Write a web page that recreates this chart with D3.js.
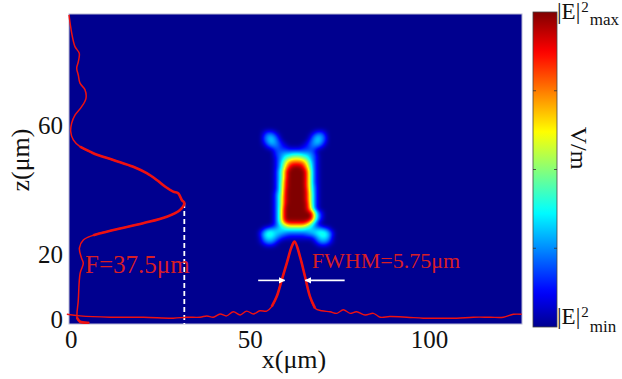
<!DOCTYPE html>
<html>
<head>
<meta charset="utf-8">
<script src="https://cdn.jsdelivr.net/npm/d3@7/dist/d3.min.js"></script>
<style>
  html, body { margin: 0; padding: 0; background: #fff; }
  svg { display: block; font-family: "Liberation Serif", "Times New Roman", serif; }
</style>
</head>
<body>
<svg id="chart" width="622" height="379"></svg>
<script>
// ---- axes ----
const xTicks = [0, 50, 100];
const zTicks = [0, 20, 60];
const xDomain = [-0.5, 126];   // μm
const zDomain = [-1.5, 94.5];  // μm, lens exit at the bottom edge

// ---- |E|^2 field near the focus (normalised, hex digit / 15) ----
// columns: x = 52 … 74 μm (1 μm step); rows: z = 61 … 22 μm (1 μm step)
const fieldX0 = 52;
const fieldZ0 = 61;
const fieldRows = [
  "00000000000000000000000", // 61
  "00000000000000000000000", // 60
  "00000000000000000000000", // 59
  "00122100000000001221000", // 58
  "00244310000000013442000", // 57
  "00345420000000024543000", // 56
  "00245431000000134542000", // 55
  "00134432100001234431000", // 54
  "00012332211112233210000", // 53
  "00000233333333332000000", // 52
  "00000234556665543100000", // 51
  "00000134678887643100000", // 50
  "000001358abbba853100000", // 49
  "000001369cdddc963100000", // 48
  "00000136adfffda63100000", // 47
  "00000147cfffffc73100000", // 46
  "00000147cfffffc73100000", // 45
  "00000147cfffffc73100000", // 44
  "00000147dfffffc73100000", // 43
  "00000148dfffffc73100000", // 42
  "00000148dfffffc74100000", // 41
  "00000148efffffd74100000", // 40
  "00000258efffffd84100000", // 39
  "00000259efffffd84100000", // 38
  "00000259efffffd84100000", // 37
  "00000259efffffe84100000", // 36
  "00000259ffffffe94100000", // 35
  "0000025affffffe94100000", // 34
  "0000025affffffff9420000", // 33
  "0000025affffffff9420000", // 32
  "0000025affffffff9420000", // 31
  "00000259deeeeed95200000", // 30
  "000012468aaaaa864210000", // 29
  "00234455666666554443200", // 28
  "02466555444444455666420", // 27
  "02566543322222334566520", // 26
  "01455432111111112455410", // 25
  "01344310000000001344310", // 24
  "00122100000000000122100", // 23
  "00000000000000000000000"  // 22
];

// ---- transverse intensity profile at the focus (x, plotted height z) ----
const xProfileX = [-1.1, 2.6, 11.0, 20.3, 28.6, 32.4, 36.1, 38.0, 39.8, 41.7, 43.5, 45.4, 47.3, 49.1, 51.0, 52.8, 54.7, 56.1, 57.5, 58.9, 60.3, 61.7, 62.5, 64.0, 65.4, 66.8, 68.2, 70.1, 72.4, 74.3, 76.1, 78.0, 79.8, 82.2, 84.5, 86.4, 89.1, 93.8, 98.4, 103.1, 107.8, 112.4, 117.1, 120.8, 123.6, 125.9];
const xProfileZ = [1.5, 1.0, 0.6, 0.6, 0.3, 0.6, 0.6, 1.0, 0.6, 1.6, 1.0, 2.3, 1.3, 2.5, 1.6, 2.6, 2.5, 3.9, 7.0, 12.1, 17.3, 22.5, 24.0, 19.4, 13.2, 7.0, 3.4, 2.6, 2.3, 1.8, 2.9, 1.8, 2.3, 1.3, 1.8, 0.6, 0.8, 0.6, 0.3, 0.3, 0.3, 0.6, 0.6, 0.6, 1.5, 1.5];

// ---- axial intensity profile (z, plotted width x) ----
const zProfileZ = [94.2, 88.6, 84.4, 82.3, 79.7, 77.7, 75.6, 73.1, 71.0, 68.4, 65.8, 63.2, 60.7, 58.1, 55.5, 53.4, 51.4, 49.3, 47.2, 45.2, 43.1, 41.0, 39.5, 39.0, 36.9, 36.0, 33.8, 31.7, 29.7, 27.6, 26.0, 24.5, 22.0, 18.9, 17.3, 14.2, 5.9, 0.3, -0.8, -1.1];
const zProfileX = [-0.5, 0.25, 1.17, 2.37, 2.09, 1.65, 2.09, 2.57, 3.97, 4.24, 3.04, 1.17, 0.25, -0.03, 0.70, 2.57, 6.28, 11.87, 17.45, 21.2, 24.0, 26.4, 28.6, 30.0, 31.0, 31.7, 30.5, 26.8, 20.2, 11.9, 6.3, 3.5, 2.4, 3.0, 3.5, 2.6, 2.1, 1.8, 2.6, 4.9];

// ---- annotations ----
const focalLength = 37.5;   // μm, measured from the lens exit
const fwhm = 5.75;          // μm
const fwhmCenter = 62.6;    // μm
const fwhmLevel = 12;       // half of the plotted peak height

// ---- layout ----
const plot = { left: 69, right: 522, top: 14, bottom: 324 };
const cbar = { left: 533, right: 557, top: 12, bottom: 327 };
const textRed = "#d81e26";
const lineRed = "#ee1111";

const svg = d3.select("#chart");

const x = d3.scaleLinear().domain(xDomain).range([plot.left, plot.right]);
const z = d3.scaleLinear().domain(zDomain).range([plot.bottom, plot.top]);

// jet colour map
const jet = d3.scaleLinear()
  .domain([0, 0.111, 0.365, 0.619, 0.873, 1])
  .range(["#00008f", "#0000ff", "#00ffff", "#ffff00", "#ff0000", "#800000"])
  .clamp(true);

// ---- field image ----
const grid = fieldRows.map(r => Array.from(r, c => parseInt(c, 16) / 15));
const nRows = grid.length, nCols = grid[0].length;

function fieldAt(xv, zv) {
  const c = xv - fieldX0, r = fieldZ0 - zv;
  if (c < 0 || r < 0 || c > nCols - 1 || r > nRows - 1) return 0;
  const c0 = Math.min(Math.floor(c), nCols - 2), r0 = Math.min(Math.floor(r), nRows - 2);
  const fc = c - c0, fr = r - r0;
  const a = grid[r0][c0], b = grid[r0][c0 + 1], d = grid[r0 + 1][c0], e = grid[r0 + 1][c0 + 1];
  return (a * (1 - fc) + b * fc) * (1 - fr) + (d * (1 - fc) + e * fc) * fr;
}

const W = plot.right - plot.left, H = plot.bottom - plot.top;
let vals = new Float32Array(W * H);
for (let j = 0; j < H; j++) {
  const zv = z.invert(plot.top + j + 0.5);
  for (let i = 0; i < W; i++) {
    vals[j * W + i] = fieldAt(x.invert(plot.left + i + 0.5), zv);
  }
}
// box smoothing of the sampled field
function boxBlur(src, rad) {
  const tmp = new Float32Array(W * H), out = new Float32Array(W * H);
  for (let j = 0; j < H; j++) for (let i = 0; i < W; i++) {
    let s = 0, n = 0;
    for (let k = -rad; k <= rad; k++) { const ii = i + k; if (ii >= 0 && ii < W) { s += src[j * W + ii]; n++; } }
    tmp[j * W + i] = s / n;
  }
  for (let j = 0; j < H; j++) for (let i = 0; i < W; i++) {
    let s = 0, n = 0;
    for (let k = -rad; k <= rad; k++) { const jj = j + k; if (jj >= 0 && jj < H) { s += tmp[jj * W + i]; n++; } }
    out[j * W + i] = s / n;
  }
  return out;
}
vals = boxBlur(boxBlur(vals, 2), 2);

const canvas = document.createElement("canvas");
canvas.width = W; canvas.height = H;
const ctx = canvas.getContext("2d");
const img = ctx.createImageData(W, H);
for (let p = 0; p < W * H; p++) {
  const col = d3.rgb(jet(vals[p]));
  img.data[4 * p] = col.r; img.data[4 * p + 1] = col.g; img.data[4 * p + 2] = col.b; img.data[4 * p + 3] = 255;
}
ctx.putImageData(img, 0, 0);

svg.append("image")
  .attr("x", plot.left).attr("y", plot.top)
  .attr("width", W).attr("height", H)
  .attr("preserveAspectRatio", "none")
  .attr("href", canvas.toDataURL());

svg.append("rect")
  .attr("x", plot.left).attr("y", plot.top)
  .attr("width", W).attr("height", H)
  .attr("fill", "none").attr("stroke", "#b8b8d4").attr("stroke-width", 1);

// ---- dashed focus marker ----
const lensZ = zDomain[0];
const focusZ = lensZ + focalLength;
const peakIdx = d3.maxIndex(zProfileX);
svg.append("line")
  .attr("x1", x(zProfileX[peakIdx])).attr("x2", x(zProfileX[peakIdx]))
  .attr("y1", z(focusZ)).attr("y2", z(lensZ))
  .attr("stroke", "#ffffff").attr("stroke-width", 1.8)
  .attr("stroke-dasharray", "5,3");

// ---- profiles ----
const curve = d3.curveCatmullRom.alpha(0.5);
const xLine = d3.line().x(d => x(d[0])).y(d => z(d[1])).curve(curve);
const xPts = xProfileX.map((v, i) => [v, xProfileZ[i]]);
const zPts = zProfileZ.map((v, i) => [zProfileX[i], v]);

svg.append("path").attr("d", xLine(xPts))
  .attr("fill", "none").attr("stroke", lineRed).attr("stroke-width", 1.4);
svg.append("path").attr("d", xLine(xPts.filter(d => d[0] >= 55 && d[0] <= 69.5)))
  .attr("fill", "none").attr("stroke", lineRed).attr("stroke-width", 2.6).attr("stroke-linejoin", "round");

svg.append("path").attr("d", xLine(zPts))
  .attr("fill", "none").attr("stroke", lineRed).attr("stroke-width", 1.5);
svg.append("path").attr("d", xLine(zPts.filter(d => d[1] <= 54 && d[1] >= 25)))
  .attr("fill", "none").attr("stroke", lineRed).attr("stroke-width", 2.6).attr("stroke-linejoin", "round");
svg.append("path").attr("d", xLine(zPts.slice(-3)))
  .attr("fill", "none").attr("stroke", lineRed).attr("stroke-width", 2.6).attr("stroke-linecap", "round");

// ---- FWHM arrows ----
const defs = svg.append("defs");
defs.append("marker")
  .attr("id", "arrowHead").attr("viewBox", "0 0 10 10")
  .attr("refX", 9).attr("refY", 5)
  .attr("markerWidth", 4.2).attr("markerHeight", 4.2)
  .attr("markerUnits", "strokeWidth")
  .attr("orient", "auto")
  .append("path").attr("d", "M0,0 L10,5 L0,10 Z").attr("fill", "#ffffff");

const arrows = [
  { from: fwhmCenter - fwhm / 2 - 7.4, to: fwhmCenter - fwhm / 2 },
  { from: fwhmCenter + fwhm / 2 + 11, to: fwhmCenter + fwhm / 2 }
];
svg.selectAll("line.arrow").data(arrows).join("line")
  .attr("class", "arrow")
  .attr("x1", d => x(d.from)).attr("x2", d => x(d.to))
  .attr("y1", z(fwhmLevel)).attr("y2", z(fwhmLevel))
  .attr("stroke", "#ffffff").attr("stroke-width", 1.6)
  .attr("marker-end", "url(#arrowHead)");

// ---- annotation text ----
svg.append("text")
  .attr("x", x(4.0)).attr("y", z(14.3))
  .attr("font-size", 25).attr("fill", textRed)
  .text("F=37.5μm");
svg.append("text")
  .attr("x", x(67.3)).attr("y", z(15.7))
  .attr("font-size", 22).attr("fill", textRed)
  .text("FWHM=5.75μm");

// ---- axes ----
const xAxis = svg.append("g")
  .attr("transform", `translate(0,${plot.bottom})`)
  .call(d3.axisBottom(x).tickValues(xTicks).tickSize(0).tickPadding(6).tickFormat(d3.format("d")));
const zAxis = svg.append("g")
  .attr("transform", `translate(${plot.left},0)`)
  .call(d3.axisLeft(z).tickValues(zTicks).tickSize(0).tickPadding(6).tickFormat(d3.format("d")));
[xAxis, zAxis].forEach(g => {
  g.select(".domain").remove();
  g.selectAll("text").attr("font-size", 25).attr("fill", "#111").attr("font-family", "Liberation Serif, serif");
});

svg.append("text")
  .attr("x", 294).attr("y", 368)
  .attr("text-anchor", "middle").attr("font-size", 26).attr("fill", "#111")
  .text("x(μm)");
svg.append("text")
  .attr("transform", "translate(29,160) rotate(-90)")
  .attr("text-anchor", "middle").attr("font-size", 26).attr("fill", "#111")
  .text("z(μm)");

// ---- colour bar ----
const cb = d3.scaleLinear().domain([0, 1]).range([cbar.bottom, cbar.top]);
const grad = defs.append("linearGradient")
  .attr("id", "jetGrad").attr("x1", 0).attr("y1", 1).attr("x2", 0).attr("y2", 0);
d3.range(0, 1.0001, 0.02).forEach(t => {
  grad.append("stop").attr("offset", t).attr("stop-color", jet(t));
});
svg.append("rect")
  .attr("x", cbar.left).attr("y", cbar.top)
  .attr("width", cbar.right - cbar.left).attr("height", cbar.bottom - cbar.top)
  .attr("fill", "url(#jetGrad)").attr("stroke", "#444").attr("stroke-width", 0.8);

const cbTicks = [0.25, 0.5, 0.75];
svg.selectAll("line.cbl").data(cbTicks).join("line")
  .attr("class", "cbl")
  .attr("x1", cbar.left).attr("x2", cbar.left + 3)
  .attr("y1", d => cb(d)).attr("y2", d => cb(d))
  .attr("stroke", "#333").attr("stroke-width", 0.8);
svg.selectAll("line.cbr").data(cbTicks).join("line")
  .attr("class", "cbr")
  .attr("x1", cbar.right - 3).attr("x2", cbar.right)
  .attr("y1", d => cb(d)).attr("y2", d => cb(d))
  .attr("stroke", "#333").attr("stroke-width", 0.8);

function fieldLabel(yBase, sub, subDy) {
  const t = svg.append("text")
    .attr("x", 557).attr("y", yBase)
    .attr("font-size", 23).attr("fill", "#111");
  t.append("tspan").text("|E|");
  t.append("tspan").attr("font-size", 15).attr("dy", -7).attr("dx", 1).text("2");
  t.append("tspan").attr("font-size", 17).attr("dy", subDy).attr("dx", 1).text(sub);
}
fieldLabel(19, "max", 13);
fieldLabel(324, "min", 15);

svg.append("text")
  .attr("transform", "translate(571,148) rotate(90)")
  .attr("text-anchor", "middle").attr("font-size", 24).attr("fill", "#111")
  .text("V/m");
</script>
</body>
</html>
